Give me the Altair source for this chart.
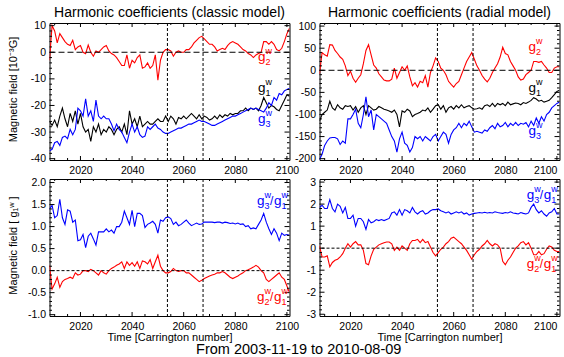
import altair as alt
import pandas as pd

FONT = "Liberation Sans"
RED, BLACK, BLUE = "#ff0000", "#000000", "#0000ff"

# Carrington rotation numbers
CR = list(range(2008, 2102))

# ---- classic model, 10^-3 G ----
CLASSIC_G2 = [-3, 10, 8, 3.5, 7, 5.5, 4, 3, 2.5, 4.5,
              1, 2, 2.5, 0, -0.5, 2.7, 0, -1.5, 0.5, 0,
              1, 2, 2.5, 0.5, -0.5, -1, -2, -3.5, -5, -5,
              -1, -6, -3, -4, -2, -1, -6, -5.5, -4, -6,
              -5, -1, -10.5, -3, 0, 1, 1, 0.5, -1.5, 0,
              0.5, 0, 0, 1, 1, 2, 3.5, 4.5, 5.5, 6,
              5, 4, 3, 3, 2, 0.5, 1, 1.5, 1, 2.5,
              3.5, 4, 3.5, 3, 2, 1, 0.5, -0.5, -1, -2,
              -1, -0.5, 0, 4, 4, 3, 4, 3, 1, 0.5,
              1.5, 4, 7, 9]
CLASSIC_G1 = [-26, -27.5, -25.5, -28, -24, -21, -25, -28, -23, -26,
              -22, -27, -23, -28, -30, -29, -33.5, -28, -30, -27,
              -31, -29, -30, -28, -29, -31, -29, -28, -30, -27,
              -31, -22, -27, -25, -28, -24, -28, -27, -26, -27,
              -27, -26, -25, -26, -26, -24, -26, -24, -25, -27,
              -24.5, -25, -24, -25, -24, -23, -24, -25, -23.5, -25,
              -24, -24.5, -25.5, -25, -24, -25, -23.5, -24.5, -23.5, -24,
              -23, -23.5, -23, -23, -22, -22, -21, -22, -21, -21.5,
              -21, -22, -20, -17, -19, -21, -20, -20.5, -21.5, -22,
              -20, -18, -16, -16.5]
CLASSIC_G3 = [-37, -36.5, -34, -33.5, -35, -32, -31.5, -32.5, -29, -31,
              -29, -21, -22, -24, -17.5, -24, -22, -26, -18, -24,
              -25, -24, -25, -25, -27, -29.5, -27, -29, -30, -32,
              -34, -30, -27, -30, -28, -31, -32, -31.5, -28, -29,
              -28, -27, -28.5, -29, -30, -30.5, -30.5, -30, -29.5, -29,
              -28.5, -28.5, -28, -27.5, -27, -27, -26.5, -26, -25.5, -26,
              -26, -26.5, -27, -27.5, -27.5, -27, -26.5, -26, -25.5, -25,
              -24.5, -24, -24, -23.5, -23, -22.5, -22, -21.5, -21, -21.5,
              -21, -21.5, -22, -22.5, -21, -19, -20, -17, -18, -15.5,
              -16, -14.5, -14, -13.5]

# ---- radial model, 10^-3 G ----
RADIAL_G2 = [-8, 40, 35, 32, 58, 57, 45, 38, 30, 25,
             10, -12, -2, -18, -27, -18, -10, 15, 45, 58,
             35, 12, 5, -8, -15, -22, -24, -24, -20, 5,
             -18, -5, 8, 0, 10, -15, -35, -28, -38, -25,
             -28, -12, -38, -5, 10, 28, 20, 5, 0, -10,
             -25, -32, -38, -30, -25, -10, 5, 20, 30, 40,
             25, 10, 0, -12, -20, -26, -18, -5, 5, 15,
             30, 52, 38, 35, 20, 10, 0, -15, -22, -20,
             -10, -5, 0, 20, 20, 18, 20, 12, 5, -5,
             -5, 5, 8, 8]
RADIAL_G1 = [-115, -100, -95, -90, -70, -85, -90, -78, -85, -88,
             -80, -82, -80, -90, -82, -95, -85, -80, -100, -80,
             -85, -90, -88, -82, -85, -88, -90, -92, -95, -90,
             -100, -128, -92, -95, -88, -92, -105, -100, -98, -95,
             -90, -92, -85, -95, -88, -80, -78, -88, -80, -95,
             -85, -82, -88, -80, -85, -78, -85, -82, -80, -85,
             -88, -87, -85, -88, -80, -78, -82, -75, -82, -75,
             -78, -75, -80, -72, -78, -76, -74, -75, -78, -73,
             -75, -72, -68, -62, -65, -70, -68, -72, -70, -68,
             -62, -55, -48, -45]
RADIAL_G3 = [-202, -190, -170, -160, -153, -152, -152, -155, -168, -160,
             -165, -110, -110, -100, -88, -120, -130, -100, -60, -105,
             -90, -135, -100, -105, -110, -115, -120, -135, -150, -160,
             -185, -155, -140, -165, -170, -185, -175, -150, -155, -150,
             -160, -150, -155, -160, -150, -145, -160, -150, -140, -145,
             -165, -145, -135, -130, -120, -130, -120, -125, -115, -128,
             -140, -138, -140, -142, -135, -138, -130, -125, -132, -120,
             -128, -125, -118, -128, -120, -125, -118, -125, -120, -122,
             -118, -128, -115, -125, -108, -120, -105, -115, -100, -95,
             -85, -80, -75, -72]

# ---- ratios, in units of g1 ----
CLASSIC_G3_G1 = [1.4, 1.48, 1.2, 1.25, 1.62, 1.2, 1.05, 1.38, 1.35, 1.1,
                 1.15, 0.68, 0.7, 0.82, 0.52, 0.78, 0.85, 0.72, 0.58, 0.88,
                 0.88, 0.88, 0.95, 0.88, 0.92, 0.85, 1.0, 1.0, 1.1, 1.35,
                 1.2, 1.05, 1.37, 1.0, 1.3, 1.3, 1.25, 0.98, 1.05, 1.08,
                 1.12, 1.05, 0.85, 1.15, 1.12, 1.2, 1.22, 1.18, 1.05, 1.1,
                 1.02, 1.05, 1.1, 1.15, 1.08, 1.02, 1.05, 1.08, 1.05, 1.06,
                 1.1, 1.1, 1.1, 1.1, 1.09, 1.1, 1.1, 1.08, 1.1, 1.09,
                 1.07, 1.08, 1.06, 1.08, 1.05, 1.06, 1.0, 1.02, 0.95, 0.97,
                 0.95, 1.05, 1.15, 1.3, 1.1, 0.95, 0.82, 0.95, 0.85, 0.68,
                 0.85, 0.8, 0.82, 0.8]
CLASSIC_G2_G1 = [0.12, -0.42, -0.3, -0.15, -0.38, -0.25, -0.2, -0.18, -0.15, -0.18,
                 -0.05, -0.1, -0.08, 0.0, 0.0, -0.02, 0.03, 0.0, -0.05, -0.1,
                 0.0, -0.05, -0.08, 0.0, 0.05, 0.08, 0.12, 0.15, 0.2, 0.05,
                 0.2, 0.12, 0.18, 0.1, 0.2, 0.05, 0.22, 0.2, 0.15, 0.25,
                 0.05, 0.2, 0.35, 0.1, 0.0, -0.05, -0.05, -0.02, 0.05, 0.0,
                 -0.02, 0.0, 0.0, -0.05, -0.05, -0.1, -0.15, -0.2, -0.25, -0.22,
                 -0.18, -0.15, -0.12, -0.1, -0.08, -0.05, -0.05, -0.02, -0.05, -0.1,
                 -0.15, -0.18, -0.15, -0.12, -0.08, -0.05, 0.0, 0.02, 0.05, 0.08,
                 0.12, 0.08, 0.0, -0.05, -0.2, -0.25, -0.2, -0.15, -0.1, -0.05,
                 -0.15, -0.2, -0.35, -0.5]
RADIAL_G3_G1 = [1.85, 1.95, 1.8, 1.8, 2.2, 1.8, 1.65, 2.0, 1.9, 1.6,
                1.85, 1.35, 1.35, 1.5, 1.0, 1.35, 1.35, 1.2, 0.85, 1.3,
                1.15, 1.2, 1.3, 1.25, 1.3, 1.25, 1.3, 1.35, 1.6, 1.65,
                1.5, 1.75, 1.5, 1.75, 1.7, 1.6, 1.85, 1.65, 1.55, 1.65,
                1.7, 1.55, 1.6, 1.7, 1.75, 1.75, 1.78, 1.7, 1.65, 1.6,
                1.65, 1.55, 1.6, 1.65, 1.6, 1.65, 1.55, 1.6, 1.5, 1.55,
                1.58, 1.6, 1.62, 1.6, 1.63, 1.6, 1.62, 1.6, 1.65, 1.62,
                1.6, 1.58, 1.62, 1.6, 1.65, 1.6, 1.58, 1.55, 1.62, 1.58,
                1.55, 1.6, 1.85, 2.0, 1.75, 1.6, 1.7, 1.55, 1.45, 1.6,
                1.65, 1.8, 1.55, 1.55]
RADIAL_G2_G1 = [0.1, -0.4, -0.4, -0.35, -0.85, -0.65, -0.55, -0.5, -0.4, -0.25,
                0.0, 0.2, 0.05, 0.2, 0.3, 0.15, 0.15, -0.1, -0.7, -0.75,
                -0.35, -0.05, 0.05, 0.15, 0.2, 0.25, 0.28, 0.28, 0.2, -0.1,
                0.05, -0.1, 0.1, 0.0, -0.1, 0.2, 0.35, 0.35, 0.4, 0.25,
                0.4, 0.25, 0.3, 0.05, -0.2, -0.35, -0.2, -0.05, 0.05, 0.2,
                0.3, 0.45, 0.5, 0.4, 0.3, 0.2, 0.05, -0.1, -0.3, -0.5,
                -0.3, -0.15, -0.05, 0.1, 0.2, 0.35, 0.2, 0.1, 0.2, 0.15,
                0.0, -0.6, -0.75, -0.55, -0.4, -0.2, 0.0, 0.1, 0.25, 0.3,
                0.15, 0.25, 0.0, -0.3, -0.3, -0.15, -0.3, -0.25, -0.05, 0.1,
                0.05, -0.1, -0.15, -0.15]

# vertical markers (Carrington rotation)
EVENTS = [2053.7, 2067.5]

# axis ticks
X_MAJOR = [2020, 2040, 2060, 2080, 2100]
X_MINOR = [2010, 2015, 2025, 2030, 2035, 2045, 2050, 2055, 2065, 2070,
           2075, 2085, 2090, 2095]
TL_Y = [-40, -30, -20, -10, 0, 10]
TR_Y = [-200, -150, -100, -50, 0, 50, 100]
BL_Y = [-1.0, -0.5, 0.0, 0.5, 1.0, 1.5, 2.0]
BR_Y = [-3, -2, -1, 0, 1, 2, 3]

W, H = 240, 137
XS = alt.Scale(domain=[2008, 2101], nice=False, zero=False)
MINUS = "\u2212"


def minors(lo, hi, step, major_step):
    out = []
    n = int(round((hi - lo) / step))
    for k in range(n + 1):
        v = round(lo + k * step, 6)
        if abs(v / major_step - round(v / major_step)) > 1e-6:
            out.append(v)
    return out


def panel(series, ydom, ymaj, ymin, yfmt, zero_dash, labels, ratio,
          title=None, ytitle=None, xtitle=None, flush=False):
    ys = alt.Scale(domain=ydom, nice=False, zero=False)
    rows = []
    for name, color, vals in series:
        for c, v in zip(CR, vals):
            rows.append({"cr": c, "val": v, "s": name, "color": color})
    df = pd.DataFrame(rows)

    xkw = dict(values=X_MAJOR, format="d", ticks=False, domain=False, grid=False,
               labelFont=FONT, labelFontSize=10.5, labelColor="black", labelPadding=5)
    if flush:
        xkw["labelFlush"] = 5
    if xtitle:
        xaxis = alt.Axis(title=xtitle, titleFont=FONT, titleFontSize=11,
                         titleFontWeight="normal", titleColor="black",
                         titleY=24, titleBaseline="alphabetic", **xkw)
    else:
        xaxis = alt.Axis(title=None, **xkw)
    ykw = dict(values=ymaj, ticks=False, domain=False, grid=False,
               labelFont=FONT, labelFontSize=10.5, labelColor="black", labelPadding=4,
               labelExpr=f"replace(format(datum.value, '{yfmt}'), '{MINUS}', '-')")
    if ytitle:
        yaxis = alt.Axis(title=ytitle, titleFont=FONT, titleFontSize=11,
                         titleFontWeight="normal", titleColor="black",
                         titleX=-33, titleY=66, titleBaseline="alphabetic", **ykw)
    else:
        yaxis = alt.Axis(title=None, **ykw)

    def X(f):
        return alt.X(f, scale=XS, axis=xaxis)

    def Y(f):
        return alt.Y(f, scale=ys, axis=yaxis)

    lines = alt.Chart(df).mark_line(strokeWidth=1.1, clip=True).encode(
        x=X("cr:Q"), y=Y("val:Q"),
        color=alt.Color("color:N", scale=None),
        detail="s:N",
    )
    zero = alt.Chart(pd.DataFrame({"z": [0]})).mark_rule(
        color="black", strokeWidth=1, strokeDash=zero_dash).encode(y=Y("z:Q"))
    ev = alt.Chart(pd.DataFrame({"e": EVENTS})).mark_rule(
        color="black", strokeWidth=1, strokeDash=[3, 2]).encode(x=X("e:Q"))

    ticks = []
    for vals, ln in ((X_MAJOR, 4), (X_MINOR, 2)):
        d = alt.Chart(pd.DataFrame({"t": vals})).mark_rule(color="black", strokeWidth=1)
        ticks.append(d.encode(x=X("t:Q"), y=alt.value(H), y2=alt.value(H - ln)))
        ticks.append(d.encode(x=X("t:Q"), y=alt.value(0), y2=alt.value(ln)))
    for vals, ln in ((ymaj, 5), (ymin, 2.5)):
        d = alt.Chart(pd.DataFrame({"t": vals})).mark_rule(color="black", strokeWidth=1)
        ticks.append(d.encode(y=Y("t:Q"), x=alt.value(0), x2=alt.value(ln)))
        ticks.append(d.encode(y=Y("t:Q"), x=alt.value(W), x2=alt.value(W - ln)))

    base = alt.Chart(pd.DataFrame(labels))
    enc = dict(x=X("cr:Q"), y=Y("val:Q"), color=alt.Color("color:N", scale=None))

    def txt(dx, dy, size, text=None, field=None):
        kw = {"text": text} if text else {}
        m = base.mark_text(align="left", baseline="alphabetic", dx=dx, dy=dy,
                           fontSize=size, font=FONT, **kw)
        if field:
            return m.encode(text=alt.Text(field + ":N"), **enc)
        return m.encode(**enc)

    labs = [txt(0, 0, 13.5, text="g"), txt(7.5, -7, 9, text="w"), txt(7.5, 4, 9, field="s1")]
    if ratio:
        labs += [txt(13, 0, 12, text="/"), txt(17, 0, 13.5, text="g"),
                 txt(24.5, -7, 9, text="w"), txt(24.5, 4, 9, field="s2")]

    layers = [lines, zero, ev] + ticks + labs
    props = dict(width=W, height=H)
    if title:
        props["title"] = alt.TitleParams(title, font=FONT, fontSize=14, fontWeight="normal",
                                         color="black", anchor="middle", offset=1)
    return alt.layer(*layers).properties(**props)


tl = panel([("g2", RED, CLASSIC_G2), ("g1", BLACK, CLASSIC_G1), ("g3", BLUE, CLASSIC_G3)],
           [-40.5, 11], TL_Y, minors(-40, 10, 2, 10), "d", [6, 3],
           [{"cr": 2088.8, "val": -3.3, "color": RED, "s1": "2"},
            {"cr": 2088.8, "val": -14.9, "color": BLACK, "s1": "1"},
            {"cr": 2088.8, "val": -26.6, "color": BLUE, "s1": "3"}], False,
           title="Harmonic coefficients (classic model)",
           ytitle="Magnetic field [10\u207b\u00b3G]")
tr = panel([("g2", RED, RADIAL_G2), ("g1", BLACK, RADIAL_G1), ("g3", BLUE, RADIAL_G3)],
           [-203, 107], TR_Y, minors(-200, 100, 10, 50), "d", [6, 3],
           [{"cr": 2089, "val": 43.5, "color": RED, "s1": "2"},
            {"cr": 2089, "val": -49, "color": BLACK, "s1": "1"},
            {"cr": 2089, "val": -146, "color": BLUE, "s1": "3"}], False,
           title="Harmonic coefficients (radial model)", flush=True)
bl = panel([("r31", BLUE, CLASSIC_G3_G1), ("r21", RED, CLASSIC_G2_G1)],
           [-1.03, 2.08], BL_Y, minors(-1.0, 2.0, 0.1, 0.5), ".1f", [3, 2],
           [{"cr": 2088.4, "val": 1.49, "color": BLUE, "s1": "3", "s2": "1"},
            {"cr": 2088.4, "val": -0.68, "color": RED, "s1": "2", "s2": "1"}], True,
           ytitle="Magnetic field [ g\u2081\u02b7 ]", xtitle="Time [Carrington number]")
br = panel([("r31", BLUE, RADIAL_G3_G1), ("r21", RED, RADIAL_G2_G1)],
           [-3.08, 3.14], BR_Y, minors(-3, 3, 0.2, 1), "d", [3, 2],
           [{"cr": 2088.3, "val": 2.24, "color": BLUE, "s1": "3", "s2": "1"},
            {"cr": 2088.3, "val": -0.89, "color": RED, "s1": "2", "s2": "1"}], True,
           xtitle="Time [Carrington number]", flush=True)

chart = alt.concat(tl, tr, bl, br, columns=2,
                   spacing=alt.RowColnumber(row=19, column=30), bounds="flush").properties(
    title=alt.TitleParams("From 2003-11-19 to 2010-08-09", orient="bottom", anchor="middle",
                          font=FONT, fontSize=14.5, fontWeight="normal",
                          color="black", offset=0, dx=15),
    padding={"left": 6.5, "top": 5, "right": 0, "bottom": 0},
    background="white",
).configure_view(stroke="black", strokeWidth=1)

chart.save("out.html", embed_options={"renderer": "svg", "actions": False})
